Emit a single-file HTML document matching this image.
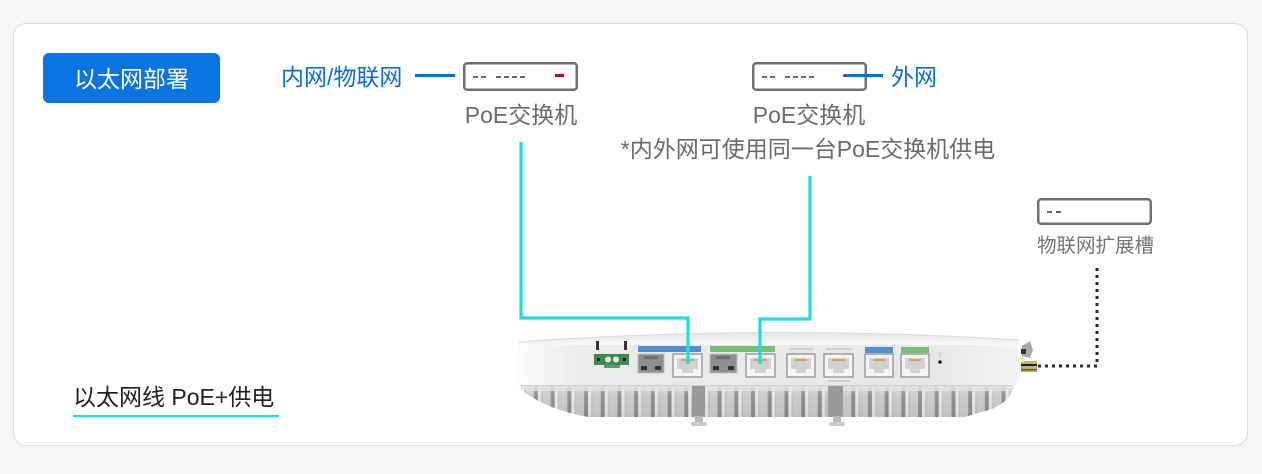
<!DOCTYPE html>
<html><head><meta charset="utf-8">
<style>
html,body{margin:0;padding:0;}
body{width:1262px;height:474px;background:#f5f6f8;position:relative;overflow:hidden;font-family:"Liberation Sans","Noto Sans CJK SC",sans-serif;}
.card{position:absolute;left:13px;top:23px;width:1233px;height:421px;background:#fff;border:1.5px solid #dcdcdc;border-radius:13px;}
.t{position:absolute;white-space:nowrap;font-size:23px;height:30px;line-height:30px;}
.c{text-align:center;}
.btn{position:absolute;left:43px;top:53px;width:177px;height:50px;background:#0a74e2;border-radius:6px;color:#fff;font-size:23px;line-height:52px;text-align:center;}
svg{position:absolute;left:0;top:0;}
</style></head><body>
<div class="card"></div>
<div class="btn">以太网部署</div>

<svg width="1262" height="474" viewBox="0 0 1262 474">
<defs>
  <linearGradient id="face" x1="0" x2="1" y1="0" y2="0">
    <stop offset="0" stop-color="#fdfdfd"/>
    <stop offset="0.12" stop-color="#ebebeb"/>
    <stop offset="0.85" stop-color="#e8e8e8"/>
    <stop offset="1" stop-color="#f4f4f4"/>
  </linearGradient>
  <linearGradient id="lid" x1="0" x2="0" y1="0" y2="1">
    <stop offset="0" stop-color="#e6e6e6"/>
    <stop offset="1" stop-color="#f9f9f9"/>
  </linearGradient>
  <pattern id="fins" width="16.7" height="60" patternUnits="userSpaceOnUse" x="526" y="0">
    <rect width="16.7" height="60" fill="#c2c2c2"/>
    <rect x="0" width="8" height="60" fill="#cbcbcb"/>
    <rect x="8" width="4" height="60" fill="#8c8c8c"/>
    <rect x="12" width="3" height="60" fill="#e6e6e6"/>
  </pattern>
  <linearGradient id="finshade" x1="0" x2="0" y1="0" y2="1">
    <stop offset="0" stop-color="#ffffff" stop-opacity="0.45"/>
    <stop offset="0.3" stop-color="#ffffff" stop-opacity="0.05"/>
    <stop offset="1" stop-color="#000000" stop-opacity="0.04"/>
  </linearGradient>
</defs>

<!-- blue connector lines -->
<line x1="415" y1="75.5" x2="455" y2="75.5" stroke="#0a6fd6" stroke-width="3"/>

<!-- switch box 1 -->
<rect x="464.25" y="63.25" width="112.5" height="26.5" rx="3" fill="#fff" stroke="#6f6f6f" stroke-width="2.5"/>
<line x1="473" y1="77" x2="487" y2="77" stroke="#666" stroke-width="2" stroke-dasharray="5 3"/>
<line x1="496" y1="77" x2="528" y2="77" stroke="#666" stroke-width="2" stroke-dasharray="5 3"/>
<rect x="555" y="74" width="9" height="3" fill="#c8001e"/>

<!-- switch box 2 -->
<rect x="753.25" y="63.25" width="112.5" height="26.5" rx="3" fill="#fff" stroke="#6f6f6f" stroke-width="2.5"/>
<line x1="762" y1="77" x2="776" y2="77" stroke="#666" stroke-width="2" stroke-dasharray="5 3"/>
<line x1="785" y1="77" x2="817" y2="77" stroke="#666" stroke-width="2" stroke-dasharray="5 3"/>
<line x1="844" y1="75.5" x2="883" y2="75.5" stroke="#0a6fd6" stroke-width="3"/>
<rect x="843" y="74.5" width="2" height="2" fill="#c8001e"/>

<!-- IoT box -->
<rect x="1038.25" y="199.25" width="112.5" height="24.5" rx="3" fill="#fff" stroke="#6f6f6f" stroke-width="2.5"/>
<line x1="1047" y1="212" x2="1061" y2="212" stroke="#666" stroke-width="2" stroke-dasharray="5 4"/>

<!-- dotted line to expansion slot -->
<polyline points="1097,268 1097,366 1038,366" fill="none" stroke="#2a2a2a" stroke-width="3" stroke-dasharray="3 4"/>

<!-- device: lid -->
<path d="M518,346 L518,342 Q770,324 1019,340 L1019,346 Z" fill="url(#lid)"/>
<path d="M518,342 Q770,324 1019,340" fill="none" stroke="#d9d9d9" stroke-width="1"/>
<!-- fins -->
<path d="M521,385 L1014,385 Q1012,400 992,409 L965,417 L588,417 Q548,410 521,390 Z" fill="url(#fins)"/>
<path d="M521,385 L1014,385 Q1012,400 992,409 L965,417 L588,417 Q548,410 521,390 Z" fill="url(#finshade)"/>
<path d="M521,385 L1014,385 L1010,391 L526,391 Z" fill="#e2e2e2" opacity="0.8"/>
<!-- dark columns and posts -->
<rect x="692" y="386" width="13" height="31" fill="#9a9a9a"/>
<rect x="828" y="386" width="15" height="31" fill="#9a9a9a"/>
<rect x="695" y="416" width="8" height="9" fill="#b8b8b8"/>
<rect x="691" y="422" width="16" height="4" rx="2" fill="#cacaca"/>
<rect x="833" y="416" width="8" height="9" fill="#b8b8b8"/>
<rect x="829" y="422" width="16" height="4" rx="2" fill="#cacaca"/>
<!-- front face -->
<path d="M518,345 L1010,345 Q1021,345 1021,356 L1020,378 Q1019,386 1010,386 L518,386 Q516,366 518,345 Z" fill="url(#face)"/>
<line x1="520" y1="385.5" x2="1012" y2="385.5" stroke="#cfcfcf" stroke-width="1"/>

<!-- power connector -->
<rect x="596" y="341" width="3" height="9" fill="#333"/>
<rect x="624" y="341" width="3" height="9" fill="#333"/>
<rect x="594" y="354" width="35" height="11" fill="#3f8a52"/>
<rect x="597" y="358" width="3" height="3" fill="#111"/>
<circle cx="608" cy="359.5" r="3" fill="#e8e8d8"/>
<circle cx="616" cy="359.5" r="3" fill="#e8e8d8"/>
<rect x="623" y="358" width="3" height="3" fill="#111"/>
<rect x="604" y="365" width="16" height="3" fill="#5a9a68"/>

<!-- labels -->
<rect x="638" y="346" width="63" height="6" fill="#4f8fd6"/>
<rect x="710" y="346" width="65" height="6" fill="#72c072"/>
<rect x="865" y="347" width="28" height="6" fill="#4f8fd6"/>
<rect x="901" y="347" width="28" height="6" fill="#72c072"/>
<rect x="789" y="348" width="24" height="2" fill="#cfcfcf"/>
<rect x="826" y="348" width="26" height="2" fill="#cfcfcf"/>
<rect x="828" y="380" width="22" height="2" fill="#d0d0d0"/>

<!-- SFP ports -->
<rect x="638" y="354" width="26" height="19" fill="#8e8e8e" stroke="#c2c2c2" stroke-width="1"/>
<rect x="641" y="366" width="6" height="4" fill="#333"/>
<rect x="655" y="366" width="6" height="4" fill="#333"/>
<rect x="644" y="356" width="14" height="3" fill="#6f6f6f"/>
<rect x="710" y="354" width="27" height="19" fill="#8e8e8e" stroke="#c2c2c2" stroke-width="1"/>
<rect x="713" y="366" width="6" height="4" fill="#333"/>
<rect x="728" y="366" width="6" height="4" fill="#333"/>
<rect x="716" y="356" width="14" height="3" fill="#6f6f6f"/>

<!-- RJ45 ports -->
<g stroke="#8a8a8a" stroke-width="1.2">
  <rect x="673" y="354" width="29" height="23" fill="#f4f4f4"/>
  <rect x="746" y="354" width="29" height="23" fill="#f4f4f4"/>
  <rect x="787" y="354" width="28" height="23" fill="#f4f4f4"/>
  <rect x="824" y="354" width="29" height="23" fill="#f4f4f4"/>
  <rect x="865" y="354" width="28" height="23" fill="#f4f4f4"/>
  <rect x="901" y="354" width="28" height="23" fill="#f4f4f4"/>
</g>
<g fill="#d2d2d2">
  <path d="M677,358 h21 v11 h-5 v4 h-11 v-4 h-5 Z"/>
  <path d="M750,358 h21 v11 h-5 v4 h-11 v-4 h-5 Z"/>
  <path d="M791,358 h20 v11 h-5 v4 h-10 v-4 h-5 Z"/>
  <path d="M828,358 h21 v11 h-5 v4 h-11 v-4 h-5 Z"/>
  <path d="M869,358 h20 v11 h-5 v4 h-10 v-4 h-5 Z"/>
  <path d="M905,358 h20 v11 h-5 v4 h-10 v-4 h-5 Z"/>
</g>
<g fill="#c9a95a">
  <rect x="681" y="359" width="13" height="2"/>
  <rect x="754" y="359" width="13" height="2"/>
  <rect x="795" y="359" width="12" height="2"/>
  <rect x="832" y="359" width="13" height="2"/>
  <rect x="873" y="359" width="12" height="2"/>
  <rect x="909" y="359" width="12" height="2"/>
</g>
<circle cx="940" cy="362" r="1.8" fill="#222"/>
<line x1="940" y1="352" x2="940" y2="358" stroke="#bbb" stroke-width="0.8"/>

<!-- antenna connector -->
<path d="M1022,346 L1030,341 L1033,350 L1030,358 L1022,356 Z" fill="#a9a9a9"/>
<rect x="1021" y="349" width="5" height="5" fill="#333"/>
<rect x="1021" y="361" width="16" height="11" fill="#c6b270"/>
<rect x="1021" y="364" width="16" height="2" fill="#222"/>
<rect x="1021" y="369" width="16" height="1.5" fill="#6d5e2a"/>
<rect x="1020" y="358" width="4" height="4" fill="#f2ee9a"/>

<!-- cyan PoE cables -->
<polyline points="521,142 521,318 688,318 688,364" fill="none" stroke="#1ae0d8" stroke-width="3.2"/>
<polyline points="810,176 810,319 760,319 760,364" fill="none" stroke="#1ae0d8" stroke-width="3.2"/>

<!-- legend underline -->
<rect x="73" y="415" width="206" height="2.2" fill="#1ae0d8"/>
</svg>

<div class="t" style="left:281px;top:62px;color:#0b6fd3;">内网/物联网</div>
<div class="t" style="left:891px;top:62px;color:#0b6fd3;">外网</div>
<div class="t c" style="left:451px;top:100px;width:140px;color:#6b6b6b;">PoE交换机</div>
<div class="t c" style="left:739px;top:100px;width:140px;color:#6b6b6b;">PoE交换机</div>
<div class="t c" style="left:608px;top:134px;width:400px;color:#6b6b6b;">*内外网可使用同一台PoE交换机供电</div>
<div class="t" style="left:1037px;top:231px;font-size:19.5px;color:#757575;">物联网扩展槽</div>
<div class="t" style="left:73px;top:382px;color:#222;">以太网线 PoE+供电</div>
</body></html>
